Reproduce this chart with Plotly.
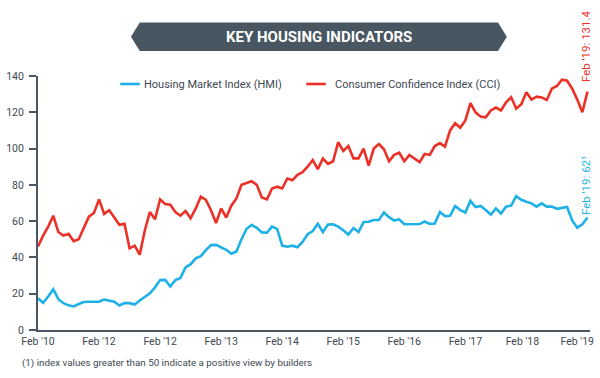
import plotly.graph_objects as go

# ---------------- data ----------------
months_idx = list(range(109))  # Feb 2010 .. Feb 2019, monthly

hmi = [17.5, 15, 18.5, 22.5, 17, 14.8, 13.6, 13, 14.3, 15.4,
       15.6, 15.6, 15.6, 16.8, 16, 15.6, 13.5, 14.8, 14.8, 14,
       16.3, 18.5, 20.2, 23.5, 27.5, 27.6, 24, 27.5, 28.7, 34.5,
       36.3, 39.5, 40.7, 44, 46.8, 46.9, 45.6, 44.2, 42, 43.3,
       50, 55.8, 58, 56.3, 53.8, 53.6, 57, 55.7, 46.5, 45.9,
       46.5, 45.6, 48.5, 52.8, 54.5, 58.5, 54, 58.2, 58.3, 57,
       55, 52.6, 56.2, 54, 59.5, 59.7, 60.6, 60.6, 64.8, 62.2,
       60.3, 61, 58.3, 58.3, 58.3, 58.4, 59.8, 58.5, 58.7, 65,
       62.8, 63, 68.4, 66.1, 64.8, 71.2, 67.8, 68.4, 66.1, 63.6,
       67, 64.2, 68, 68.6, 73.8, 71.8, 70.7, 69.8, 68, 69.8,
       68, 68, 66.8, 67.4, 67.8, 60.4, 56.4, 58.3, 62]

cci = [46, 52, 57, 63, 54, 52, 53, 49, 50, 56,
       62.5, 64.5, 72, 64, 66, 62, 58, 58.5, 45, 46.5,
       41.5, 55, 65, 61, 72, 69.5, 69, 65, 63, 65.6,
       61.6, 67, 73.5, 71.7, 66, 59, 67, 62, 68.5, 72.5,
       80, 81, 82, 80, 73, 72, 78, 79, 78, 83.5,
       82.5, 85.5, 87, 90, 93.7, 88.7, 94.5, 91.5, 93, 103.5,
       98.7, 101.4, 94.6, 94.6, 100, 90.6, 100, 102.5, 99.6, 93,
       96.5, 97.7, 93, 96.5, 94.3, 92.5, 97, 96.5, 101.4, 103,
       101, 110, 114, 111.5, 115.5, 125, 120, 117.6, 117.2, 121,
       122.6, 121, 125.5, 128.3, 122, 124.5, 131, 127, 128.6, 128.2,
       126.8, 133, 134.5, 138, 137.4, 133, 127, 120, 131.4]

tick_labels = ["Feb '10", "Feb '12", "Feb '12", "Feb '13", "Feb '14",
               "Feb '15", "Feb '16", "Feb '17", "Feb '18", "Feb '19"]
tick_pos = [0, 12, 24, 36, 48, 60, 72, 84, 95.2, 106]
y_ticks = [0, 20, 40, 60, 80, 100, 120, 140]

series_names = ["Housing Market Index (HMI)", "Consumer Confidence Index (CCI)"]
end_labels = ["Feb '19: 62¹", "Feb '19: 131.4"]
title_text = "KEY HOUSING INDICATORS"
footnote = "(1) index values greater than 50 indicate a positive view by builders"

# ---------------- style ----------------
BLUE = "#1db1e7"
RED = "#eb3127"
AXIS = "#4a5661"
TXT = "#3e4852"
BANNER = "#475661"
FONT = "Roboto, Liberation Sans, Arial, sans-serif"

W, H = 600, 378
ML, MR, MT, MB = 30, 6, 76, 48
PW, PH = W - ML - MR, H - MT - MB


def px(x):
    return (x - ML) / PW


def py(y):
    return (H - MB - y) / PH


fig = go.Figure()
fig.add_trace(go.Scatter(x=months_idx, y=hmi, mode="lines", name=series_names[0],
                         line=dict(color=BLUE, width=2.6), showlegend=False,
                         cliponaxis=False))
fig.add_trace(go.Scatter(x=months_idx, y=cci, mode="lines", name=series_names[1],
                         line=dict(color=RED, width=2.6), showlegend=False,
                         cliponaxis=False))

shapes = []
# title banner (hexagon)
pts = [(125, 36.8), (134, 22.5), (500, 22.5), (509, 36.8), (500, 51), (134, 51)]
path = "M " + " L ".join(f"{px(a):.5f},{py(b):.5f}" for a, b in pts) + " Z"
shapes.append(dict(type="path", xref="paper", yref="paper", path=path,
                   fillcolor=BANNER, line=dict(width=0), layer="above"))
# legend samples
shapes.append(dict(type="line", xref="paper", yref="paper", x0=px(114), x1=px(134),
                   y0=py(84), y1=py(84), line=dict(color=BLUE, width=2.6)))
shapes.append(dict(type="line", xref="paper", yref="paper", x0=px(304), x1=px(324),
                   y0=py(84), y1=py(84), line=dict(color=RED, width=2.6)))

annotations = [
    dict(text=f"<b>{title_text}</b>", x=px(317), y=py(37), xref="paper", yref="paper",
         showarrow=False, font=dict(color="white", size=15, family=FONT),
         xanchor="center", yanchor="middle"),
    dict(text=series_names[0], x=px(136), y=py(84), xref="paper", yref="paper",
         showarrow=False, font=dict(color=TXT, size=11, family=FONT),
         xanchor="left", yanchor="middle"),
    dict(text=series_names[1], x=px(331), y=py(84), xref="paper", yref="paper",
         showarrow=False, font=dict(color=TXT, size=11, family=FONT),
         xanchor="left", yanchor="middle"),
    dict(text=end_labels[1], x=px(590), y=py(46), xref="paper", yref="paper",
         showarrow=False, textangle=-90, font=dict(color=RED, size=11.5, family=FONT),
         xanchor="center", yanchor="middle"),
    dict(text=end_labels[0], x=px(590), y=py(186), xref="paper", yref="paper",
         showarrow=False, textangle=-90, font=dict(color=BLUE, size=11.5, family=FONT),
         xanchor="center", yanchor="middle"),
    dict(text=footnote, x=px(12), y=py(363), xref="paper", yref="paper",
         showarrow=False, font=dict(color=TXT, size=9.8, family=FONT),
         xanchor="left", yanchor="middle"),
]

fig.update_layout(
    width=W, height=H,
    margin=dict(l=ML, r=MR, t=MT, b=MB, pad=0),
    paper_bgcolor="white", plot_bgcolor="white",
    font=dict(family=FONT, color=TXT),
    shapes=shapes, annotations=annotations,
    xaxis=dict(range=[0, 108.5], showgrid=False, zeroline=False,
               showline=True, linecolor=AXIS, linewidth=2,
               tickmode="array", tickvals=tick_pos, ticktext=tick_labels,
               ticks="", tickfont=dict(size=10.5, color=TXT, family=FONT),
               fixedrange=True),
    yaxis=dict(range=[0, 140], showgrid=False, zeroline=False,
               showline=True, linecolor=AXIS, linewidth=2,
               tickmode="array", tickvals=y_ticks,
               ticks="outside", ticklen=7, tickwidth=2, tickcolor=AXIS,
               tickfont=dict(size=10.5, color=TXT, family=FONT),
               ticklabelstandoff=3, fixedrange=True),
)

fig.write_html(
    "out.html",
    config={"displayModeBar": False},
    post_script="document.body.style.margin='0';document.body.style.overflow='hidden';",
)
